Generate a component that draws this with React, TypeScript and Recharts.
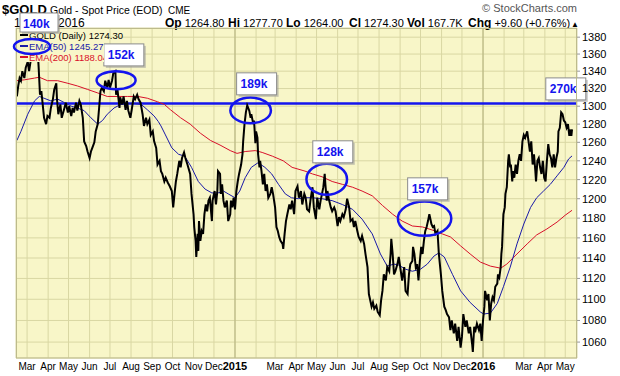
import React from "react";
import {
  LineChart,
  Line,
  XAxis,
  YAxis,
  CartesianGrid,
  ReferenceLine,
  ReferenceDot,
} from "recharts";

// x values are days counted from 1 Jan 2014, y values are USD / oz
const goldDaily: [number, number][] = [
  [44, 1311], [46, 1323], [48, 1332], [50, 1329], [52, 1340], [55, 1332], [57, 1344], [60, 1351],
  [62, 1340], [65, 1356], [68, 1368], [71, 1386], [74, 1372], [76, 1345], [78, 1313], [80, 1317],
  [82, 1302], [84, 1287], [87, 1280], [89, 1289], [92, 1287], [94, 1298], [97, 1308], [99, 1319],
  [102, 1326], [103, 1308], [105, 1291], [108, 1302], [110, 1287], [114, 1298], [116, 1304], [119, 1293],
  [121, 1300], [124, 1289], [126, 1298], [128, 1293], [131, 1304], [133, 1295], [136, 1306], [138, 1302],
  [141, 1287], [143, 1261], [146, 1256], [148, 1250], [151, 1243], [153, 1250], [155, 1254], [158, 1260],
  [160, 1272], [163, 1280], [165, 1298], [167, 1317], [169, 1321], [172, 1317], [174, 1329], [177, 1321],
  [179, 1330], [181, 1321], [184, 1329], [186, 1338], [189, 1340], [190, 1313], [192, 1319], [195, 1298],
  [196, 1310], [199, 1302], [201, 1311], [204, 1296], [206, 1306], [208, 1295], [211, 1287], [213, 1296],
  [216, 1311], [218, 1308], [221, 1313], [223, 1308], [226, 1304], [229, 1291], [231, 1278], [234, 1287],
  [236, 1280], [239, 1285], [241, 1268], [244, 1272], [246, 1261], [249, 1254], [251, 1236], [254, 1240],
  [256, 1229], [258, 1226], [261, 1218], [263, 1222], [266, 1217], [269, 1213], [272, 1208], [274, 1191],
  [276, 1205], [278, 1218], [280, 1226], [283, 1240], [285, 1233], [287, 1243], [290, 1249], [292, 1243],
  [295, 1236], [299, 1226], [301, 1205], [304, 1184], [305, 1171], [307, 1157], [308, 1141], [310, 1164],
  [311, 1147], [312, 1177], [314, 1157], [316, 1167], [318, 1164], [320, 1184], [322, 1194], [324, 1187],
  [326, 1198], [328, 1201], [331, 1177], [332, 1198], [335, 1208], [337, 1194], [339, 1208], [340, 1229],
  [343, 1226], [344, 1205], [346, 1215], [348, 1198], [350, 1191], [353, 1198], [355, 1177], [358, 1184],
  [359, 1198], [361, 1191], [363, 1201], [365, 1189], [367, 1208], [369, 1218], [371, 1226], [374, 1236],
  [376, 1247], [377, 1261], [379, 1280], [381, 1293], [383, 1301], [386, 1295], [388, 1287], [389, 1291],
  [392, 1280], [393, 1284], [395, 1259], [396, 1272], [398, 1265], [399, 1247], [401, 1233], [402, 1240],
  [404, 1229], [406, 1215], [408, 1226], [410, 1208], [412, 1215], [414, 1201], [417, 1205], [419, 1212],
  [421, 1205], [424, 1191], [426, 1171], [428, 1167], [430, 1161], [432, 1157], [435, 1154], [436, 1149],
  [438, 1164], [440, 1177], [442, 1184], [445, 1194], [447, 1189], [449, 1198], [452, 1184], [454, 1208],
  [457, 1213], [459, 1201], [462, 1208], [464, 1194], [467, 1205], [469, 1201], [471, 1189], [474, 1187],
  [476, 1198], [479, 1212], [481, 1191], [484, 1179], [486, 1201], [489, 1189], [491, 1198], [493, 1205],
  [495, 1212], [497, 1226], [498, 1215], [500, 1198], [501, 1208], [503, 1200], [506, 1191], [508, 1187],
  [511, 1191], [513, 1187], [516, 1172], [518, 1181], [520, 1177], [523, 1184], [525, 1181], [528, 1189],
  [530, 1200], [533, 1191], [535, 1177], [538, 1179], [540, 1171], [542, 1177], [545, 1167], [547, 1161],
  [550, 1157], [552, 1162], [555, 1154], [557, 1144], [560, 1131], [562, 1105], [564, 1099], [566, 1093],
  [568, 1097], [570, 1091], [573, 1094], [575, 1088], [578, 1085], [580, 1099], [582, 1108], [584, 1124],
  [587, 1118], [589, 1131], [592, 1127], [594, 1144], [595, 1159], [597, 1144], [599, 1124], [601, 1127],
  [604, 1134], [606, 1141], [609, 1127], [611, 1118], [614, 1131], [616, 1108], [619, 1105], [621, 1124],
  [623, 1134], [626, 1137], [627, 1151], [629, 1144], [631, 1131], [633, 1134], [635, 1118], [637, 1137],
  [639, 1151], [641, 1144], [643, 1157], [645, 1167], [647, 1171], [649, 1177], [651, 1184], [652, 1181],
  [654, 1174], [656, 1171], [658, 1172], [660, 1164], [663, 1167], [665, 1144], [668, 1124], [670, 1108],
  [673, 1093], [675, 1090], [677, 1086], [680, 1083], [682, 1071], [684, 1080], [687, 1068], [689, 1077],
  [692, 1061], [694, 1074], [697, 1055], [699, 1065], [701, 1086], [704, 1074], [706, 1080], [709, 1068],
  [711, 1074], [714, 1058], [715, 1051], [717, 1074], [719, 1071], [721, 1077], [724, 1071], [726, 1077],
  [728, 1061], [730, 1080], [732, 1093], [733, 1108], [736, 1099], [738, 1105], [740, 1080], [742, 1096],
  [744, 1102], [746, 1099], [748, 1112], [751, 1115], [752, 1124], [754, 1121], [756, 1131], [757, 1144],
  [758, 1151], [760, 1184], [762, 1191], [763, 1205], [765, 1212], [767, 1240], [768, 1247], [770, 1233],
  [771, 1236], [773, 1218], [774, 1229], [776, 1222], [778, 1236], [780, 1226], [782, 1240], [784, 1247],
  [786, 1240], [788, 1261], [790, 1268], [792, 1265], [795, 1272], [797, 1261], [799, 1250], [801, 1261],
  [803, 1236], [805, 1247], [807, 1229], [808, 1218], [810, 1240], [812, 1243], [814, 1233], [816, 1226],
  [818, 1240], [820, 1222], [822, 1218], [824, 1240], [826, 1258], [828, 1247], [830, 1243], [832, 1233],
  [834, 1247], [836, 1233], [838, 1243], [840, 1250], [841, 1272], [843, 1276], [845, 1293], [847, 1291],
  [849, 1284], [851, 1282], [853, 1276], [855, 1280], [857, 1267], [859, 1274], [860, 1267], [861, 1274.3],
];

const ema50: [number, number][] = [
  [44, 1262], [50, 1272], [60, 1291], [70, 1306], [77, 1311], [84, 1309], [94, 1306], [104, 1308],
  [114, 1304], [124, 1300], [133, 1298], [143, 1295], [153, 1287], [163, 1280], [170, 1284], [177, 1291],
  [187, 1298], [197, 1302], [207, 1303], [217, 1303], [227, 1302], [236, 1296], [246, 1289], [252, 1283],
  [256, 1278], [262, 1269], [272, 1254], [282, 1247], [291, 1245], [301, 1233], [311, 1218], [321, 1210],
  [331, 1206], [340, 1206], [348, 1208], [355, 1205], [365, 1201], [372, 1208], [380, 1222], [389, 1233],
  [399, 1238], [409, 1233], [419, 1226], [429, 1215], [439, 1205], [448, 1201], [458, 1200], [470, 1201],
  [479, 1201], [493, 1200], [508, 1198], [523, 1194], [538, 1189], [552, 1179], [567, 1164], [579, 1144],
  [589, 1132], [599, 1134], [606, 1133], [616, 1129], [626, 1127], [638, 1129], [648, 1134], [658, 1142],
  [665, 1145], [673, 1141], [680, 1131], [685, 1124], [697, 1108], [711, 1097], [726, 1088], [731, 1086],
  [741, 1087], [751, 1096], [760, 1112], [770, 1131], [780, 1154], [790, 1174], [800, 1191], [809, 1201],
  [819, 1208], [829, 1215], [839, 1224], [849, 1233], [856, 1242], [861, 1245.27],
];

const ema200: [number, number][] = [
  [44, 1329], [55, 1330], [70, 1332], [77, 1333], [89, 1329], [104, 1329], [119, 1326], [133, 1323],
  [148, 1319], [163, 1315], [177, 1311], [192, 1311], [207, 1311], [222, 1311], [236, 1309], [251, 1305],
  [261, 1302], [270, 1296], [285, 1287], [299, 1280], [314, 1270], [329, 1262], [343, 1257], [358, 1251],
  [368, 1248], [380, 1250], [395, 1251], [405, 1249], [420, 1245], [436, 1240], [449, 1233], [468, 1229],
  [479, 1226], [493, 1223], [508, 1218], [523, 1215], [538, 1212], [552, 1208], [567, 1203], [582, 1193],
  [597, 1184], [611, 1177], [626, 1172], [641, 1171], [655, 1168], [670, 1164], [682, 1161], [697, 1152],
  [711, 1144], [726, 1136], [741, 1132], [756, 1130], [765, 1134], [780, 1144], [795, 1154], [809, 1163],
  [824, 1169], [839, 1176], [851, 1183], [861, 1188.04],
];

// month grid (day numbers) and their axis labels
const monthDays = [
  59, 90, 120, 151, 181, 212, 243, 273, 304, 334,
  365, 396, 424, 455, 485, 516, 546, 577, 608, 638, 669, 699,
  730, 761, 790, 821, 851,
];
const monthLabels = [
  "Mar", "Apr", "May", "Jun", "Jul", "Aug", "Sep", "Oct", "Nov", "Dec",
  "2015", "", "Mar", "Apr", "May", "Jun", "Jul", "Aug", "Sep", "Oct", "Nov", "Dec",
  "2016", "", "Mar", "Apr", "May",
];
const yearDays = [365, 730];
const priceTicks = [
  1060, 1080, 1100, 1120, 1140, 1160, 1180, 1200, 1220, 1240, 1260, 1280, 1300, 1320, 1340, 1360, 1380,
];

// annotations: resistance level, circled peaks, volume call-outs
const resistance = 1303;
const ringCenters: [number, number][] = [[190, 1329.4], [388, 1295.3], [500, 1220.3], [644, 1179.5]];
const ringRadii: [number, number][] = [[19.5, 9], [20.3, 12.8], [20.3, 15.5], [26.7, 17.2]];
const calloutText = ["152k", "189k", "128k", "157k", "270k"];
const calloutAt: [number, number][] = [[201.4, 1359], [396.8, 1325.4], [508.9, 1249.7], [648.5, 1210.3], [851.8, 1319.6]];

const FONT = "'Liberation Sans', Arial, sans-serif";
const BG = "#f8f6c8";
const GRID = "#d9d7a3";
const BLUE = "#1414ee";

const rows = (pts: [number, number][]) => pts.map(([day, v]) => ({ day, v }));

const MonthTick = (props: any) => {
  const { x, y, payload } = props;
  const label = monthLabels[monthDays.indexOf(payload.value)] || "";
  const isYear = /^\d+$/.test(label);
  return (
    <text
      x={x}
      y={y}
      dy={12}
      textAnchor="middle"
      fontFamily={FONT}
      fontSize={isYear ? 11 : 10}
      fontWeight={isYear ? 700 : 400}
      fill="#000"
    >
      {label}
    </text>
  );
};

const ring = (rx: number, ry: number) => (p: any) => (
  <ellipse cx={p.cx} cy={p.cy} rx={rx} ry={ry} fill="none" stroke={BLUE} strokeWidth={2.5} />
);

const callout = (text: string) => (p: any) => (
  <g>
    <rect x={p.cx - 18} y={p.cy - 9} width={40} height={22} fill="#9a9a9a" opacity={0.55} />
    <rect x={p.cx - 20} y={p.cy - 11} width={40} height={22} fill="#fff" stroke="#8c8c8c" />
    <text x={p.cx - 16} y={p.cy + 4.5} fontFamily={FONT} fontSize={12} fontWeight={700} fill={BLUE}>
      {text}
    </text>
  </g>
);

const Header = () => (
  <svg
    width={620}
    height={376}
    style={{ position: "absolute", left: 0, top: 0, pointerEvents: "none" }}
    fontFamily={FONT}
  >
    <defs>
      <clipPath id="legendClip">
        <rect x={16} y={28} width={88} height={40} />
      </clipPath>
    </defs>
    <text x={2} y={14} fontSize={13} fontWeight={700}>$GOLD</text>
    <text x={50} y={14} fontSize={10.5}>Gold - Spot Price (EOD)</text>
    <text x={168} y={14} fontSize={10}>CME</text>
    <text x={577} y={12} fontSize={11} fill="#555" textAnchor="end">© StockCharts.com</text>
    <text x={14} y={27} fontSize={12}>13-May-2016</text>
    <g fontSize={11}>
      <text x={165} y={27}><tspan fontWeight={700} fontSize={12}>Op</tspan> 1264.80</text>
      <text x={228} y={27}><tspan fontWeight={700} fontSize={12}>Hi</tspan> 1277.70</text>
      <text x={286} y={27}><tspan fontWeight={700} fontSize={12}>Lo</tspan> 1264.00</text>
      <text x={349} y={27}><tspan fontWeight={700} fontSize={12}>Cl</tspan> 1274.30</text>
      <text x={407} y={27}><tspan fontWeight={700} fontSize={12}>Vol</tspan> 167.7K</text>
      <text x={468} y={27}><tspan fontWeight={700} fontSize={12}>Chg</tspan> +9.60 (+0.76%)</text>
      <text x={571} y={27} fontSize={8}>▲</text>
    </g>
    {/* plot frame */}
    <rect x={16.5} y={28.5} width={560} height={329.5} fill="none" stroke="#bdbb8c" />
    {/* legend block */}
    <rect x={17} y={29} width={87} height={33} fill={BG} />
    <g fontSize={9.5}>
      <line x1={20} x2={28} y1={35} y2={35} stroke="#000" strokeWidth={2} />
      <text x={29} y={39}>GOLD (Daily) 1274.30</text>
      <g clipPath="url(#legendClip)">
        <line x1={20} x2={28} y1={46} y2={46} stroke="#1a1aa8" strokeWidth={2} />
        <text x={29} y={49.5} fill="#1a1aa8">EMA(50) 1245.27</text>
        <line x1={20} x2={28} y1={57} y2={57} stroke="#d8102a" strokeWidth={2} />
        <text x={29} y={60.5} fill="#d8102a">EMA(200) 1188.04</text>
      </g>
    </g>
    <ellipse cx={32} cy={46.5} rx={18} ry={7.5} fill="none" stroke={BLUE} strokeWidth={2.5} />
    <rect x={22} y={15} width={38} height={19} fill="#9a9a9a" opacity={0.55} />
    <rect x={20} y={13} width={38} height={19} fill="#fff" stroke="#8c8c8c" />
    <text x={23} y={27.5} fontSize={12} fontWeight={700} fill={BLUE}>140k</text>
  </svg>
);

export default function App() {
  return (
    <div style={{ position: "absolute", left: 0, top: 0, width: 620, height: 376, background: "#fff" }}>
      <LineChart width={620} height={376} margin={{ top: 28, right: 0, bottom: 0, left: 16 }}>
        <CartesianGrid fill={BG} fillOpacity={1} stroke={GRID} />
        <XAxis
          type="number"
          dataKey="day"
          domain={[42.7, 868.3]}
          allowDataOverflow
          ticks={monthDays}
          interval={0}
          height={18}
          tickSize={0}
          tickMargin={0}
          axisLine={false}
          tick={<MonthTick />}
        />
        <YAxis
          orientation="right"
          scale="log"
          domain={[1045.5, 1391]}
          allowDataOverflow
          ticks={priceTicks}
          interval={0}
          width={43}
          axisLine={false}
          tickSize={3}
          tickMargin={2}
          tickLine={{ stroke: "#999" }}
          tick={{ fontSize: 11, fill: "#000", fontFamily: FONT }}
        />
        {yearDays.map((d) => (
          <ReferenceLine key={d} x={d} stroke="#b3b17c" />
        ))}
        <ReferenceLine y={resistance} stroke={BLUE} strokeWidth={2.5} />
        <Line
          data={rows(ema200)}
          dataKey="v"
          stroke="#d8102a"
          strokeWidth={1}
          dot={false}
          isAnimationActive={false}
        />
        <Line
          data={rows(ema50)}
          dataKey="v"
          stroke="#1a1aa8"
          strokeWidth={1}
          dot={false}
          isAnimationActive={false}
        />
        <Line
          data={rows(goldDaily)}
          dataKey="v"
          stroke="#000"
          strokeWidth={2}
          dot={false}
          isAnimationActive={false}
        />
        {ringCenters.map(([d, p], i) => (
          <ReferenceDot
            key={`ring-${i}`}
            x={d}
            y={p}
            ifOverflow="visible"
            shape={ring(ringRadii[i][0], ringRadii[i][1])}
          />
        ))}
        {calloutAt.map(([d, p], i) => (
          <ReferenceDot key={`co-${i}`} x={d} y={p} ifOverflow="visible" shape={callout(calloutText[i])} />
        ))}
      </LineChart>
      <Header />
    </div>
  );
}
